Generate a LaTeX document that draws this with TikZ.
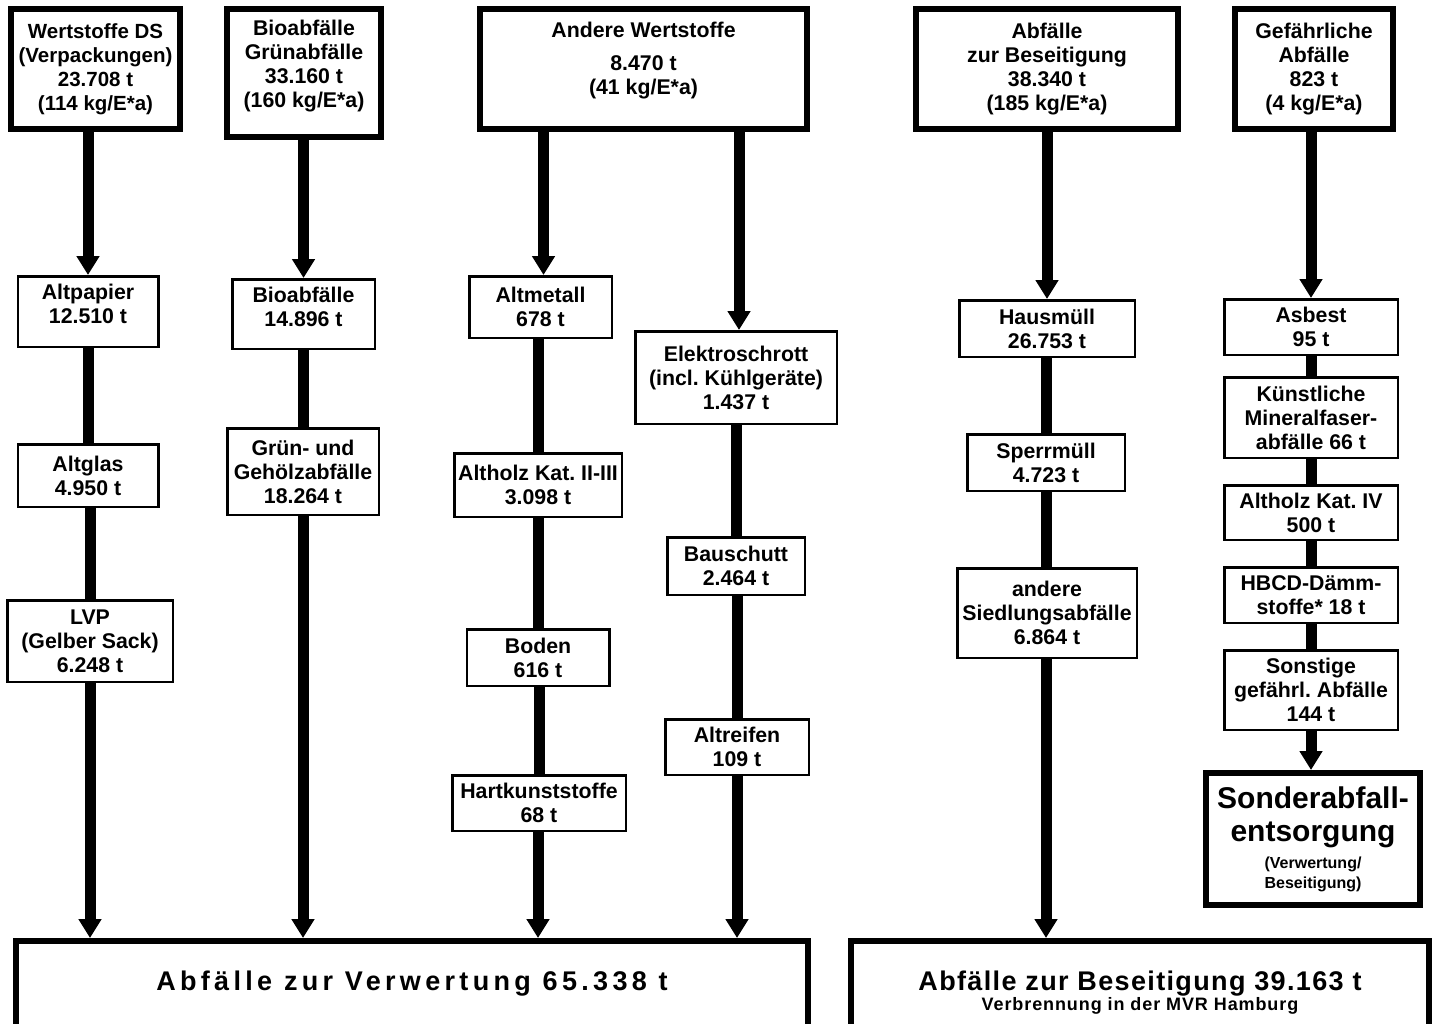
\documentclass[tikz,border=0pt]{standalone}
\usepackage{fontspec}
\setmainfont{Liberation Sans}
\newfontfamily\verwfont[LetterSpace=16]{Liberation Sans}
\newfontfamily\besfont[LetterSpace=5]{Liberation Sans}
\usetikzlibrary{arrows.meta}
\frenchspacing

\begin{document}
\begin{tikzpicture}[x=1pt,y=-1pt,
 every node/.style={align=center,inner sep=1pt,font=\bfseries\fontsize{21.3}{24}\selectfont},
 head/.style={draw,line width=6pt},
 item/.style={draw,line width=2.5pt},
 link/.style={line width=11pt},
 flow/.style={line width=11pt,-{Triangle[width=22pt,length=19pt]}}]
 \useasboundingbox (0,0) rectangle (1432,1023);
 % Sammelgruppen
 \node[head,minimum width=169,minimum height=120,font=\bfseries\fontsize{20.5}{24}\selectfont] (ws) at (95.5,69) {Wertstoffe DS\\(Verpackungen)\\23.708 t\\(114 kg/E*a)};
 \node[head,minimum width=154,minimum height=128] (bio) at (304,73) {Bioabfälle\\Grünabfälle\\33.160 t\\(160 kg/E*a)\rule[-18pt]{0pt}{0pt}};
 \node[head,minimum width=327,minimum height=120] (andw) at (643.5,69) {Andere Wertstoffe\\[9pt]8.470 t\\(41 kg/E*a)\rule[-22pt]{0pt}{0pt}};
 \node[head,minimum width=262,minimum height=120] (besw) at (1047,69) {Abfälle\\zur Beseitigung\\38.340 t\\(185 kg/E*a)};
 \node[head,minimum width=158,minimum height=120] (gef) at (1314,69) {Gefährliche\\Abfälle\\823 t\\(4 kg/E*a)};
 % Fraktionen
 \node[item,minimum width=140.5,minimum height=70.5] (altpap) at (88,311.5) {Altpapier\\12.510 t\rule[-15pt]{0pt}{0pt}};
 \node[item,minimum width=140.5,minimum height=62.5] (altglas) at (88,475.5) {Altglas\\4.950 t};
 \node[item,minimum width=165.5,minimum height=81.5] (lvp) at (90,641) {LVP\\(Gelber Sack)\\6.248 t};
 \node[item,minimum width=142.5,minimum height=69.5] (bioab) at (303.5,314) {Bioabfälle\\14.896 t\rule[-14pt]{0pt}{0pt}};
 \node[item,minimum width=151.5,minimum height=86.5] (gruen) at (303,471.5) {Grün- und\\Gehölzabfälle\\18.264 t};
 \node[item,minimum width=142.5,minimum height=61.5] (altmet) at (540.5,307) {Altmetall\\678 t};
 \node[item,minimum width=167.5,minimum height=63.5] (altholz) at (538,485) {Altholz Kat. II-III\\3.098 t};
 \node[item,minimum width=142.5,minimum height=56.5] (boden) at (538,657.5) {Boden\\616 t};
 \node[item,minimum width=173.5,minimum height=55.5] (hart) at (539,803) {Hartkunststoffe\\68 t};
 \node[item,minimum width=201.5,minimum height=92.5] (elektro) at (736,377.5) {Elektroschrott\\(incl. Kühlgeräte)\\1.437 t};
 \node[item,minimum width=137.5,minimum height=57.5] (bau) at (736,566) {Bauschutt\\2.464 t};
 \node[item,minimum width=143.5,minimum height=55.5] (reifen) at (737,747) {Altreifen\\109 t};
 \node[item,minimum width=175.5,minimum height=56.5] (haus) at (1047,328.5) {Hausmüll\\26.753 t};
 \node[item,minimum width=157.5,minimum height=56.5] (sperr) at (1046,462.5) {Sperrmüll\\4.723 t};
 \node[item,minimum width=179.5,minimum height=89.5] (siedl) at (1047,613) {andere\\Siedlungsabfälle\\6.864 t};
 \node[item,minimum width=173.5,minimum height=55.5] (asbest) at (1311,327) {Asbest\\95 t};
 \node[item,minimum width=173.5,minimum height=80.5] (kmf) at (1311,417.5) {Künstliche\\Mineralfaser-\\abfälle 66 t};
 \node[item,minimum width=173.5,minimum height=54.5] (altholzb) at (1311,512.5) {Altholz Kat. IV\\500 t};
 \node[item,minimum width=173.5,minimum height=55.5] (hbcd) at (1311,595) {HBCD-Dämm-\\stoffe* 18 t};
 \node[item,minimum width=173.5,minimum height=79.5] (sonst) at (1311,690) {Sonstige\\gefährl. Abfälle\\144 t};
 \node[head,minimum width=214,minimum height=132,font=\bfseries\fontsize{30}{33}\selectfont] (sonder) at (1313,839)
  {Sonderabfall-\\entsorgung\\[-6pt]{\fontsize{16}{19}\selectfont (Verwertung/}\\[-13pt]{\fontsize{16}{19}\selectfont Beseitigung)}};
 % Ziele
 \node[head,anchor=north,minimum width=792,inner ysep=30,text height=19,text depth=80,
  font=\verwfont\bfseries\fontsize{27}{30}\selectfont] (verw) at (412,938) {Abfälle zur Verwertung 65.338 t};
 \node[head,anchor=north,minimum width=578,inner ysep=30,font=\besfont\bfseries\fontsize{27}{32}\selectfont] (besei) at (1140,938)
  {Abfälle zur Beseitigung 39.163 t\\[-12pt]{\bfseries\fontsize{18}{20}\selectfont Verbrennung in der MVR Hamburg\rule[-80pt]{0pt}{0pt}}};
 % Pfeile
 \draw[flow] (ws.south -| altpap) -- (altpap.north);
 \draw[link] (altpap.south) -- (altglas.north);
 \draw[link] (altglas.south -| lvp) -- (lvp.north);
 \draw[flow] (lvp.south) -- (lvp.south |- verw.north);
 \draw[flow] (bio.south -| bioab) -- (bioab.north);
 \draw[link] (bioab.south -| gruen) -- (gruen.north);
 \draw[flow] (gruen.south) -- (gruen.south |- verw.north);
 \draw[flow] ([xshift=3pt]andw.south -| altmet) -- ([xshift=3pt]altmet.north);
 \draw[link] (altmet.south -| altholz) -- (altholz.north);
 \draw[link] (altholz.south) -- (boden.north);
 \draw[link] (boden.south -| hart) -- (hart.north);
 \draw[flow] (hart.south -| boden) -- (boden.south |- verw.north);
 \draw[flow] ([xshift=3pt]andw.south -| elektro) -- ([xshift=3pt]elektro.north);
 \draw[link] (elektro.south) -- (bau.north);
 \draw[link] (bau.south -| reifen) -- (reifen.north);
 \draw[flow] (reifen.south) -- (reifen.south |- verw.north);
 \draw[flow] (besw.south -| haus) -- (haus.north);
 \draw[link] (haus.south -| sperr) -- (sperr.north);
 \draw[link] (sperr.south) -- (sperr.south |- siedl.north);
 \draw[flow] (siedl.south -| sperr) -- (sperr.south |- besei.north);
 \draw[flow] (gef.south -| asbest) -- (asbest.north);
 \draw[link] (asbest.south) -- (kmf.north);
 \draw[link] (kmf.south) -- (altholzb.north);
 \draw[link] (altholzb.south) -- (hbcd.north);
 \draw[link] (hbcd.south) -- (sonst.north);
 \draw[flow] (sonst.south) -- (sonst.south |- sonder.north);
\end{tikzpicture}
\end{document}
